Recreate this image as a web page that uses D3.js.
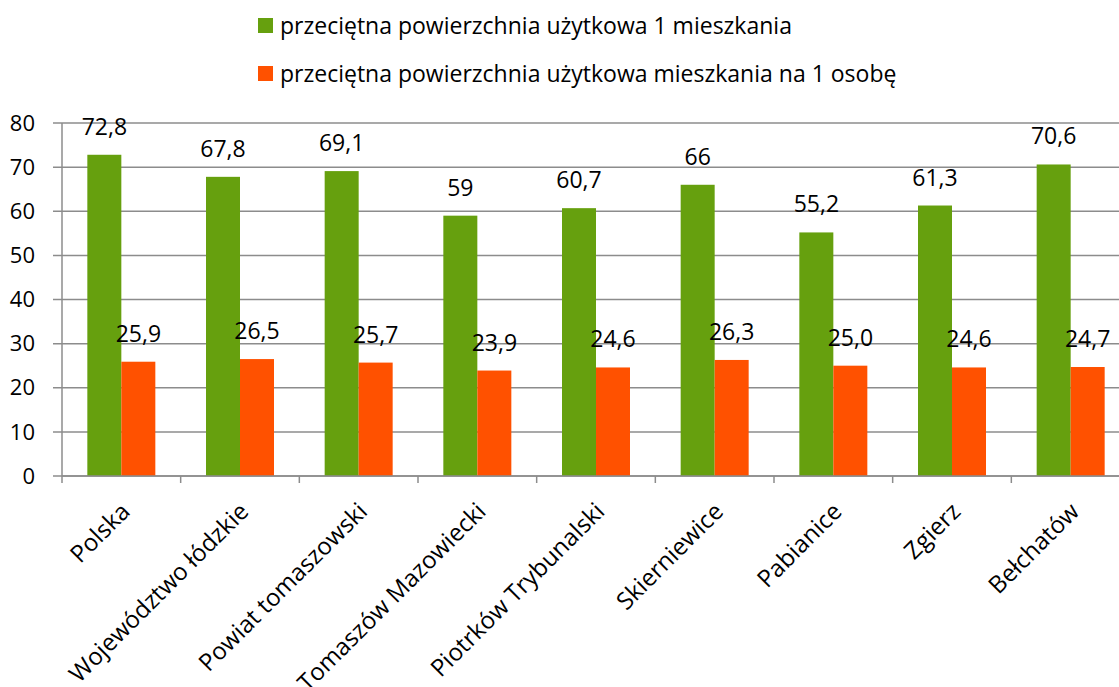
<!DOCTYPE html>
<html>
<head>
<meta charset="utf-8">
<script src="https://cdn.jsdelivr.net/npm/d3@7"></script>
<style>
  body { margin: 0; background: #fff; }
  svg { display: block; font-family: "Open Sans", sans-serif; }
</style>
</head>
<body>
<div id="chart"></div>
<script>
  // data
  const categories = ["Polska", "Województwo łódzkie", "Powiat tomaszowski", "Tomaszów Mazowiecki",
    "Piotrków Trybunalski", "Skierniewice", "Pabianice", "Zgierz", "Bełchatów"];
  const perFlat = [72.8, 67.8, 69.1, 59, 60.7, 66, 55.2, 61.3, 70.6];
  const perPerson = [25.9, 26.5, 25.7, 23.9, 24.6, 26.3, 25.0, 24.6, 24.7];
  const perFlatLabels = ["72,8", "67,8", "69,1", "59", "60,7", "66", "55,2", "61,3", "70,6"];
  const perPersonLabels = ["25,9", "26,5", "25,7", "23,9", "24,6", "26,3", "25,0", "24,6", "24,7"];
  const seriesNames = ["przeciętna powierzchnia użytkowa 1 mieszkania",
    "przeciętna powierzchnia użytkowa mieszkania na 1 osobę"];
  const yTicks = [0, 10, 20, 30, 40, 50, 60, 70, 80];

  const width = 1119, height = 687;
  const green = "#66a00e", orange = "#ff5100", grid = "#8c8c8c";

  const svg = d3.select("#chart").append("svg")
    .attr("width", width).attr("height", height);

  // plot runs off the right edge, as in the original crop
  const x = d3.scaleBand().domain(categories).range([62, 1130]).paddingInner(0).paddingOuter(0);
  const y = d3.scaleLinear().domain([0, 80]).range([476, 123]);
  const barW = 34;

  // gridlines + y ticks
  svg.append("g").selectAll("line").data(yTicks).join("line")
    .attr("x1", 53).attr("x2", width)
    .attr("y1", d => y(d)).attr("y2", d => y(d))
    .attr("stroke", grid).attr("stroke-width", 1.5);

  svg.append("g").selectAll("text").data(yTicks).join("text")
    .attr("x", 35).attr("y", d => y(d)).attr("dy", "0.35em")
    .attr("text-anchor", "end").attr("font-size", 22).attr("fill", "#000")
    .text(d => d);

  // y axis line
  svg.append("line").attr("x1", 62).attr("x2", 62).attr("y1", y(80)).attr("y2", y(0))
    .attr("stroke", grid).attr("stroke-width", 1.5);

  // x tick marks at band edges
  svg.append("g").selectAll("line").data(categories).join("line")
    .attr("x1", d => x(d)).attr("x2", d => x(d))
    .attr("y1", y(0)).attr("y2", y(0) + 7)
    .attr("stroke", grid).attr("stroke-width", 1.5);

  // bars
  const off = (x.bandwidth() - 2 * barW) / 2;
  svg.append("g").selectAll("rect").data(perFlat).join("rect")
    .attr("x", (d, i) => x(categories[i]) + off)
    .attr("y", d => y(d)).attr("width", barW).attr("height", d => y(0) - y(d))
    .attr("fill", green);
  svg.append("g").selectAll("rect").data(perPerson).join("rect")
    .attr("x", (d, i) => x(categories[i]) + off + barW)
    .attr("y", d => y(d)).attr("width", barW).attr("height", d => y(0) - y(d))
    .attr("fill", orange);

  // x axis line drawn over the bar bottoms
  svg.append("line").attr("x1", 62).attr("x2", width).attr("y1", y(0)).attr("y2", y(0))
    .attr("stroke", grid).attr("stroke-width", 1.5);

  // value labels
  svg.append("g").selectAll("text").data(perFlat).join("text")
    .attr("x", (d, i) => x(categories[i]) + off + barW / 2)
    .attr("y", d => y(d) - 20)
    .attr("text-anchor", "middle").attr("font-size", 23)
    .text((d, i) => perFlatLabels[i]);
  svg.append("g").selectAll("text").data(perPerson).join("text")
    .attr("x", (d, i) => x(categories[i]) + off + barW * 1.5)
    .attr("y", d => y(d) - 20)
    .attr("text-anchor", "middle").attr("font-size", 23)
    .text((d, i) => perPersonLabels[i]);

  // category labels, rotated (long ones run off the bottom like the original)
  svg.append("g").selectAll("text").data(categories).join("text")
    .attr("transform", d => `translate(${x(d) + x.bandwidth() / 2 + 10},${y(0) + 37}) rotate(-45)`)
    .attr("text-anchor", "end").attr("font-size", 24)
    .text(d => d);

  // legend
  const legend = svg.append("g").selectAll("g").data(seriesNames).join("g")
    .attr("transform", (d, i) => `translate(258,${18 + i * 48})`);
  legend.append("rect").attr("width", 15).attr("height", 15)
    .attr("fill", (d, i) => i === 0 ? green : orange);
  legend.append("text").attr("x", 22).attr("y", 7.5).attr("dy", "0.35em")
    .attr("font-size", 23).text(d => d);
</script>
</body>
</html>
